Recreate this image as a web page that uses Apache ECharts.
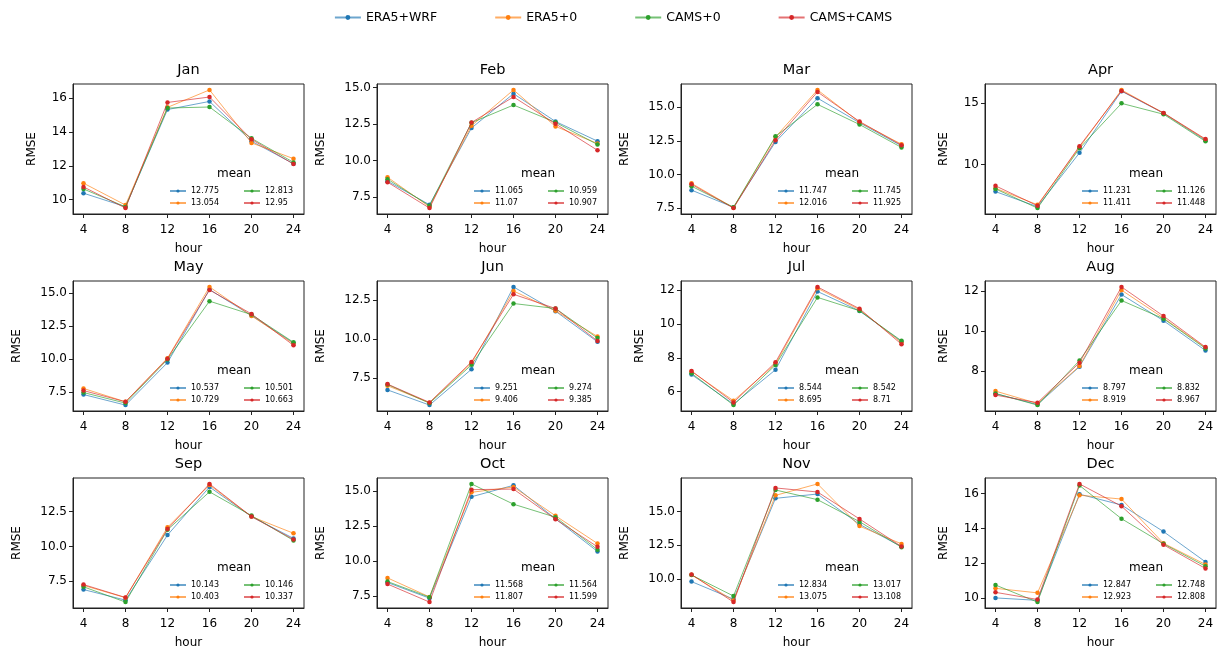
<!DOCTYPE html>
<html>
<head>
<meta charset="utf-8">
<script src="https://cdn.jsdelivr.net/npm/echarts@6/dist/echarts.min.js"></script>
<style>
html,body{margin:0;padding:0;background:#fff;}
#chart{width:1226px;height:653px;}
</style>
</head>
<body>
<div id="chart"></div>
<script>
const hours = [4, 8, 12, 16, 20, 24];
const months = ['Jan','Feb','Mar','Apr','May','Jun','Jul','Aug','Sep','Oct','Nov','Dec'];
const seriesNames = ['ERA5+WRF', 'ERA5+0', 'CAMS+0', 'CAMS+CAMS'];

const era5wrf = [
  [10.38, 9.58, 15.32, 15.80, 13.45, 12.12],
  [8.58, 6.96, 12.23, 14.59, 12.68, 11.33],
  [8.85, 7.58, 12.42, 15.66, 13.84, 12.13],
  [7.78, 6.54, 10.95, 16.00, 14.19, 11.97],
  [7.29, 6.49, 9.71, 15.25, 13.28, 11.20],
  [6.75, 5.78, 8.07, 13.33, 11.78, 9.82],
  [7.02, 5.27, 7.30, 11.93, 10.78, 8.97],
  [6.87, 6.33, 8.22, 11.83, 10.52, 9.03],
  [6.90, 6.14, 10.82, 14.28, 12.15, 10.58],
  [8.45, 7.33, 14.58, 15.40, 13.00, 10.67],
  [9.80, 8.50, 15.98, 16.30, 14.05, 12.40],
  [10.01, 9.87, 15.97, 15.35, 13.82, 12.08]
];
const era5zero = [
  [10.97, 9.68, 15.45, 16.48, 13.35, 12.42],
  [8.85, 6.82, 12.39, 14.85, 12.34, 11.17],
  [9.35, 7.55, 12.78, 16.27, 13.88, 12.25],
  [8.05, 6.70, 11.40, 16.10, 14.20, 12.03],
  [7.75, 6.74, 10.05, 15.45, 13.25, 11.15],
  [7.02, 5.93, 8.46, 13.07, 11.80, 10.16],
  [7.20, 5.47, 7.64, 12.12, 10.85, 8.91],
  [7.00, 6.38, 8.25, 12.05, 10.65, 9.17],
  [7.20, 6.32, 11.38, 14.42, 12.15, 10.95],
  [8.78, 7.42, 14.90, 15.28, 13.22, 11.24],
  [10.30, 8.40, 16.20, 17.05, 13.92, 12.60],
  [10.56, 10.30, 15.91, 15.69, 13.15, 11.93]
];
const camszero = [
  [10.63, 9.57, 15.41, 15.47, 13.62, 12.20],
  [8.72, 6.89, 12.60, 13.81, 12.62, 11.10],
  [9.14, 7.58, 12.83, 15.20, 13.71, 12.01],
  [8.00, 6.43, 11.32, 15.00, 14.11, 11.89],
  [7.44, 6.64, 9.95, 14.37, 13.35, 11.25],
  [7.10, 5.90, 8.35, 12.27, 11.95, 10.06],
  [7.09, 5.21, 7.58, 11.58, 10.79, 9.01],
  [6.88, 6.30, 8.53, 11.53, 10.62, 9.13],
  [7.10, 6.00, 11.20, 13.93, 12.22, 10.43],
  [8.52, 7.40, 15.50, 14.05, 13.12, 10.80],
  [10.29, 8.73, 16.60, 15.88, 14.25, 12.35],
  [10.75, 9.77, 16.47, 14.56, 13.12, 11.83]
];
const camscams = [
  [10.75, 9.50, 15.74, 16.06, 13.56, 12.10],
  [8.51, 6.73, 12.61, 14.37, 12.52, 10.70],
  [9.28, 7.52, 12.55, 16.12, 13.93, 12.18],
  [8.25, 6.62, 11.50, 16.02, 14.22, 12.08],
  [7.59, 6.74, 10.01, 15.22, 13.40, 11.02],
  [7.12, 5.95, 8.54, 12.86, 11.95, 9.88],
  [7.23, 5.37, 7.74, 12.20, 10.91, 8.81],
  [6.80, 6.42, 8.42, 12.21, 10.75, 9.20],
  [7.26, 6.33, 11.25, 14.50, 12.15, 10.50],
  [8.34, 7.05, 15.09, 15.13, 12.98, 11.00],
  [10.32, 8.28, 16.75, 16.45, 14.45, 12.40],
  [10.33, 9.92, 16.56, 15.28, 13.06, 11.70]
];

const meanEra5wrf  = ['12.775','11.065','11.747','11.231','10.537','9.251','8.544','8.797','10.143','11.568','12.834','12.847'];
const meanEra5zero = ['13.054','11.07','12.016','11.411','10.729','9.406','8.695','8.919','10.403','11.807','13.075','12.923'];
const meanCamszero = ['12.813','10.959','11.745','11.126','10.501','9.274','8.542','8.832','10.146','11.564','13.017','12.748'];
const meanCamscams = ['12.95','10.907','11.925','11.448','10.663','9.385','8.71','8.967','10.337','11.599','13.108','12.808'];

const yTicks = [
  [10, 12, 14, 16],
  [7.5, 10, 12.5, 15],
  [7.5, 10, 12.5, 15],
  [10, 15],
  [7.5, 10, 12.5, 15],
  [7.5, 10, 12.5],
  [6, 8, 10, 12],
  [6, 8, 10, 12],
  [7.5, 10, 12.5],
  [7.5, 10, 12.5, 15],
  [10, 12.5, 15],
  [10, 12, 14, 16]
];

const colors = ['#1f77b4', '#ff7f0e', '#2ca02c', '#d62728'];
const allData = [era5wrf, era5zero, camszero, camscams];
const allMeans = [meanEra5wrf, meanEra5zero, meanCamszero, meanCamscams];

const FONT = 'DejaVu Sans';
const colLeft = [73, 377, 681, 985];
const rowTop = [84, 281, 478];
const GW = 231, GH = 130;

const grids = [], xAxes = [], yAxes = [], series = [], titles = [], legends = [];

legends.push({
  data: seriesNames,
  top: 11,
  left: 'center',
  padding: 0,
  itemWidth: 26,
  itemHeight: 6,
  itemGap: 57,
  textStyle: {fontFamily: FONT, fontSize: 12.5, color: '#000'}
});

months.forEach((m, i) => {
  const left = colLeft[i % 4];
  const top = rowTop[Math.floor(i / 4)];
  const right = left + GW, bottom = top + GH;
  grids.push({left: left, top: top, width: GW, height: GH, show: true,
    borderColor: '#222', borderWidth: 1, backgroundColor: 'transparent', containLabel: false});

  let lo = Infinity, hi = -Infinity;
  allData.forEach(d => d[i].forEach(v => { lo = Math.min(lo, v); hi = Math.max(hi, v); }));
  const pad = (hi - lo) * 0.05;
  const ticks = yTicks[i];
  const dec = ticks.some(t => t % 1 !== 0) ? 1 : 0;

  xAxes.push({
    type: 'value', gridIndex: i, min: 3, max: 25,
    name: 'hour', nameLocation: 'middle', nameGap: 29,
    nameTextStyle: {fontFamily: FONT, fontSize: 12, color: '#000'},
    axisLine: {show: true, onZero: false, lineStyle: {color: '#222', width: 1}},
    axisTick: {show: true, length: 4, inside: false, lineStyle: {color: '#222'}, customValues: hours},
    axisLabel: {fontFamily: FONT, fontSize: 12, color: '#000', margin: 10, customValues: hours},
    splitLine: {show: false}
  });
  yAxes.push({
    type: 'value', gridIndex: i, min: lo - pad, max: hi + pad,
    name: 'RMSE', nameLocation: 'middle', nameGap: dec ? 50 : 35,
    nameTextStyle: {fontFamily: FONT, fontSize: 12, color: '#000'},
    axisLine: {show: true, onZero: false, lineStyle: {color: '#222', width: 1}},
    axisTick: {show: true, length: 4, lineStyle: {color: '#222'}, customValues: ticks},
    axisLabel: {fontFamily: FONT, fontSize: 12, color: '#000', margin: 6, customValues: ticks,
      formatter: v => Number(v).toFixed(dec)},
    splitLine: {show: false}
  });

  allData.forEach((d, s) => {
    series.push({
      name: seriesNames[s], type: 'line', xAxisIndex: i, yAxisIndex: i,
      data: hours.map((h, k) => [h, d[i][k]]),
      symbol: 'circle', symbolSize: 4.5,
      lineStyle: {width: 1, color: colors[s], opacity: 0.65},
      itemStyle: {color: colors[s]},
      emphasis: {disabled: true},
      z: 2 + s
    });
  });

  titles.push({
    text: m, left: left + GW / 2, top: top - 21, textAlign: 'center', padding: 0,
    textStyle: {fontFamily: FONT, fontSize: 14.5, fontWeight: 'normal', color: '#000'}
  });
  titles.push({
    text: 'mean', left: right - 70, top: bottom - 46, textAlign: 'center', padding: 0,
    textStyle: {fontFamily: FONT, fontSize: 12, fontWeight: 'normal', color: '#000'}
  });

  const meanMap = {};
  seriesNames.forEach((n, s) => { meanMap[n] = allMeans[s][i]; });
  legends.push({
    data: ['ERA5+WRF', 'CAMS+0', 'ERA5+0', 'CAMS+CAMS'],
    orient: 'horizontal',
    left: right - 135, top: bottom - 28, width: 152,
    padding: 0, itemGap: 2, itemWidth: 16, itemHeight: 4,
    formatter: name => meanMap[name],
    textStyle: {fontFamily: FONT, fontSize: 8, color: '#000', width: 50, lineHeight: 10}
  });
});

const chart = echarts.init(document.getElementById('chart'), null, {renderer: 'canvas'});
chart.setOption({
  animation: false,
  backgroundColor: '#fff',
  title: titles,
  legend: legends,
  grid: grids,
  xAxis: xAxes,
  yAxis: yAxes,
  series: series
});
</script>
</body>
</html>
